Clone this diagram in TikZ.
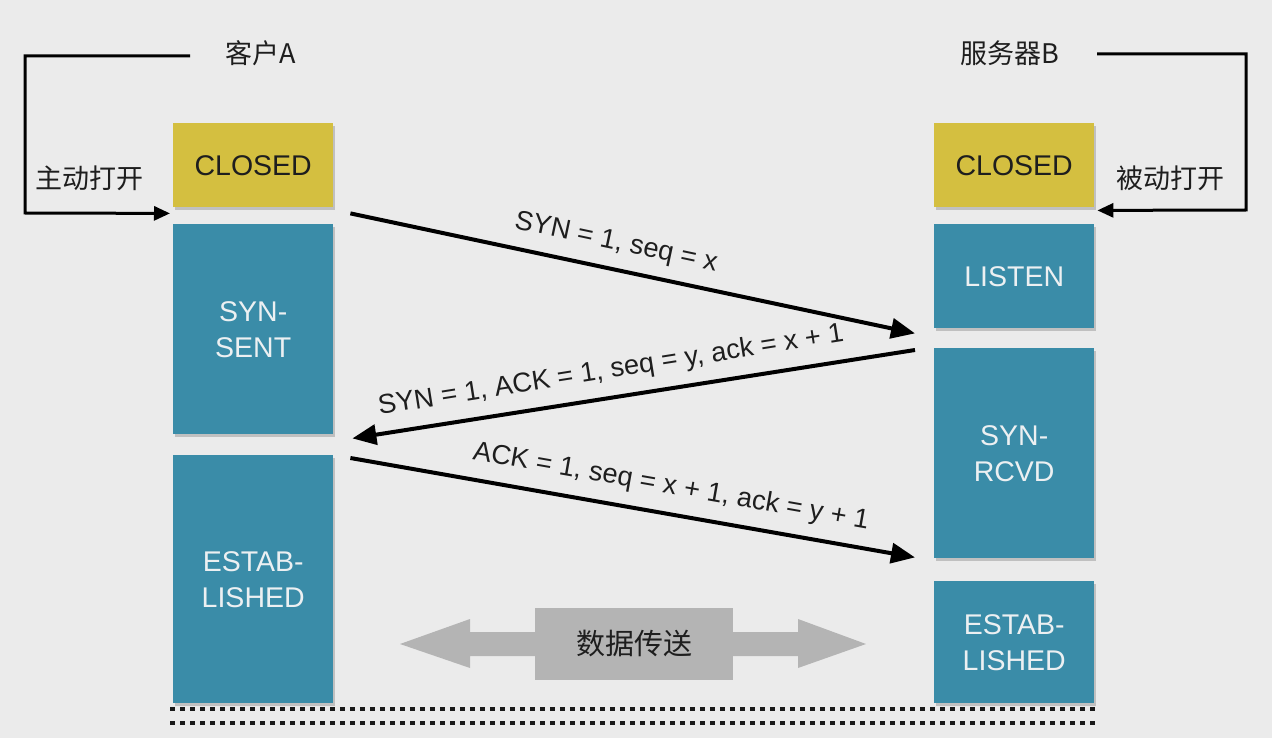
\documentclass[tikz,border=0pt]{standalone}
\usepackage{fontspec}
\setmainfont{Liberation Sans}
\newfontfamily\cjk{Noto Sans CJK SC}
\usetikzlibrary{arrows.meta,calc,shadows}
\definecolor{bgc}{RGB}{235,235,235}
\definecolor{ylw}{RGB}{212,191,64}
\definecolor{blu}{RGB}{58,140,168}
\definecolor{boxtxt}{RGB}{236,240,242}
\definecolor{txt}{RGB}{30,30,30}
\definecolor{dgray}{RGB}{180,180,180}
\tikzset{
  statebox/.style={draw=none, minimum width=160pt, inner sep=0pt, align=center,
    font=\fontsize{28.5}{36}\selectfont,
    drop shadow={shadow xshift=2pt, shadow yshift=-3pt, opacity=0.18, fill=black}},
  yellowbox/.style={statebox, fill=ylw, text=txt},
  bluebox/.style={statebox, fill=blu, text=boxtxt},
  cjklabel/.style={font=\cjk\fontsize{27}{30}\selectfont, text=txt, inner sep=0pt},
  msglabel/.style={font=\fontsize{27.3}{30}\selectfont, text=txt, inner sep=0pt},
  msgarrow/.style={line width=4pt, draw=black, -{Triangle[length=24pt,width=20pt]}},
  openarrow/.style={line width=3pt, draw=black, -{Triangle[length=16pt,width=14pt]}},
  dotline/.style={line width=4.5pt, draw=black!90, dash pattern=on 4.5pt off 5.5pt}
}
\begin{document}
\begin{tikzpicture}[x=1pt,y=-1pt]
\fill[bgc] (0,0) rectangle (1272,738);
\useasboundingbox (0,0) rectangle (1272,738);

% client boxes
\node[yellowbox, minimum height=84pt, anchor=north west] (closedA) at (173,123) {CLOSED};
\node[bluebox, minimum height=210pt, anchor=north west] (synsent) at (173,224) {SYN-\\SENT};
\node[bluebox, minimum height=248pt, anchor=north west] (estA) at (173,455) {ESTAB-\\LISHED};

% server boxes
\node[yellowbox, minimum height=84pt, anchor=north west] (closedB) at (934,123) {CLOSED};
\node[bluebox, minimum height=104pt, anchor=north west] (listen) at (934,224) {LISTEN};
\node[bluebox, minimum height=210pt, anchor=north west] (synrcvd) at (934,348) {SYN-\\RCVD};
\node[bluebox, minimum height=122pt, anchor=north west] (estB) at (934,581) {ESTAB-\\LISHED};

% titles
\node[cjklabel] (titleA) at (261,53) {客户A};
\node[cjklabel] (titleB) at (1010,53) {服务器B};
\node[cjklabel] (activeopen) at (89,178) {主动打开};
\node[cjklabel] (passiveopen) at (1170,178) {被动打开};

% open brackets
\coordinate (brA) at (190,56);
\coordinate (brB) at (1097,54);
\draw[openarrow] (brA) -- (25,56) -- (25,213) -- ($(closedA.south west)+(-3,6)$);
\draw[openarrow] (brB) -- (1246,54) -- (1246,210) -- ($(closedB.south east)+(3,3)$);

% messages
\draw[msgarrow] ($(closedA.south east)+(17,6)$) -- ($(listen.south west)+(-19,5)$);
\draw[msgarrow] ($(synrcvd.north west)+(-19,2)$) -- ($(synsent.south east)+(19,4)$);
\draw[msgarrow] ($(estA.north east)+(17,3)$) -- ($(synrcvd.south west)+(-19,-1)$);

\node[msglabel, rotate=-12] (m1) at (616,243) {SYN = 1, seq = x};
\node[msglabel, rotate=9] (m2) at (611,371) {SYN = 1, ACK = 1, seq = y, ack = x + 1};
\node[msglabel, rotate=-10] (m3) at (671,487) {ACK = 1, seq = x + 1, ack = y + 1};

% data transfer
\node[fill=dgray, minimum width=198pt, minimum height=72pt, inner sep=0pt,
      font=\cjk\fontsize{29}{32}\selectfont, text=txt] (data) at (634,644) {数据传送};
\fill[dgray] (535,632) -- (470,632) -- (470,619) -- (400,644) -- (470,668) -- (470,656) -- (535,656) -- cycle;
\fill[dgray] (733,632) -- (798,632) -- (798,619) -- (866,644) -- (798,668) -- (798,656) -- (733,656) -- cycle;

% dotted lines
\draw[dotline] (170,709) -- (1095,709);
\draw[dotline] (170,723) -- (1095,723);
\end{tikzpicture}
\end{document}
